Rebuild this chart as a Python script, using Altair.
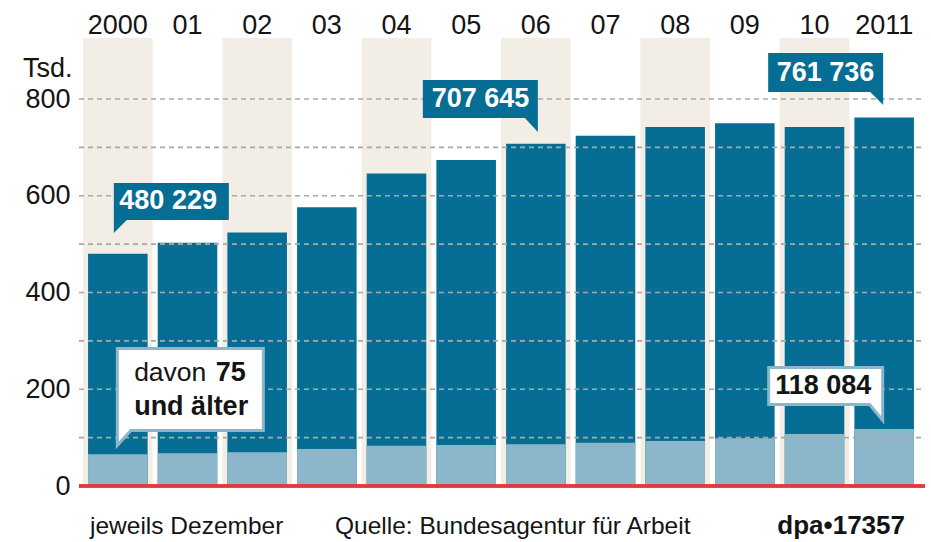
import altair as alt
import pandas as pd

# ---- data ----
years = ["2000", "01", "02", "03", "04", "05", "06", "07", "08", "09", "10", "2011"]
total_tsd = [480.229, 503, 524, 576, 646, 674, 707.645, 724, 742, 750, 742, 761.736]
aged75_tsd = [65.5, 67.5, 69.6, 76.5, 83.3, 84.7, 86.2, 89.6, 93, 98.6, 107.5, 118.084]
axis_ticks = [0, 200, 400, 600, 800]
grid_ticks = [100, 200, 300, 400, 500, 600, 700, 800]

# ---- style ----
W, H = 836, 448
YMAX = 926.1
FONT = "Liberation Sans"
DARK = "#066e94"
LIGHT = "#8cb7cb"
BEIGE = "#f3eee5"
RED = "#e6373c"
GRID = "#a8a8a8"
TXT = "#141414"

df = pd.DataFrame({"year": years, "total": total_tsd, "aged": aged75_tsd, "idx": list(range(len(years)))})
grid_df = pd.DataFrame({"g": grid_ticks})

yscale = alt.Scale(domain=[0, YMAX], nice=False, zero=True)
xscale = alt.Scale(domain=years, paddingInner=0, paddingOuter=0)

x_axis = alt.Axis(orient="top", labelFontSize=27, labelFont=FONT, labelColor=TXT,
                  ticks=False, domain=False, labelPadding=5, labelAngle=0,
                  labelBaseline="alphabetic", grid=False, title=None)
y_axis = alt.Axis(values=axis_ticks, labelFontSize=27, labelFont=FONT, labelColor=TXT,
                  ticks=False, domain=False, grid=False, labelPadding=13, title=None)


def X():
    return alt.X("year:N", sort=years, scale=xscale, title=None, axis=x_axis)


def Yf(field):
    return alt.Y(field, type="quantitative", scale=yscale, title=None, axis=y_axis)


def Yd(val):
    return alt.Y(datum=val, type="quantitative", scale=yscale, title=None, axis=y_axis)


base = alt.Chart(df)

bands = base.transform_filter("datum.idx % 2 == 0").mark_rect(color=BEIGE).encode(
    x=X(), y=Yd(YMAX), y2=alt.Y2(datum=0),
)

bars_total = base.mark_bar(color=DARK, width=alt.RelativeBandSize(0.855)).encode(
    x=X(), y=Yf("total"), y2=alt.Y2(datum=0),
)

bars_aged = base.mark_bar(color=LIGHT, width=alt.RelativeBandSize(0.855)).encode(
    x=X(), y=Yf("aged"), y2=alt.Y2(datum=0),
)

grid = alt.Chart(grid_df).mark_rule(color=GRID, strokeWidth=1.6, strokeDash=[5, 4]).encode(
    y=Yf("g"), x=alt.value(-4), x2=alt.value(W + 6),
)

baseline = alt.Chart(grid_df).mark_rule(color=RED, strokeWidth=2.5).encode(
    y=Yd(0), x=alt.value(-4), x2=alt.value(W + 6),
)


def fmt(v):
    return f"{round(v * 1000):,}".replace(",", " ")


# callouts: anchored at (year, value); outline path in pixel offsets from anchor
callouts = [
    dict(i=0, field="total", fill=DARK, stroke=DARK, sw=0, color="white",
         path="M -4 -70.7 L 111 -70.7 L 111 -33.7 L 9 -33.7 L -4 -20.7 Z",
         texts=[(fmt(total_tsd[0]), 50.3, -44.5, "bold", "center")]),
    dict(i=6, field="total", fill=DARK, stroke=DARK, sw=0, color="white",
         path="M -113 -63.7 L 2 -63.7 L 2 -11.7 L -11 -25.7 L -113 -25.7 Z",
         texts=[(fmt(total_tsd[6]), -55.4, -36.7, "bold", "center")]),
    dict(i=11, field="total", fill=DARK, stroke=DARK, sw=0, color="white",
         path="M -116 -64.5 L -1 -64.5 L -1 -12.5 L -14 -25.5 L -116 -25.5 Z",
         texts=[(fmt(total_tsd[11]), -58.7, -37, "bold", "center")]),
    dict(i=0, field="aged", fill="white", stroke=LIGHT, sw=3, color=TXT,
         path="M -0.5 -105.8 L 145.5 -105.8 L 145.5 -23.8 L 13 -23.8 L -0.5 -9 Z",
         texts=[("davon", 16.3, -73.6, "normal", "left"),
                ("75", 98, -73.6, "bold", "left"),
                ("und älter", 16.3, -39.3, "bold", "left")]),
    dict(i=11, field="aged", fill="white", stroke=LIGHT, sw=3, color=TXT,
         path="M -115.5 -61.4 L -1.5 -61.4 L -1.5 -8.5 L -14.5 -24.4 L -115.5 -24.4 Z",
         texts=[(fmt(aged75_tsd[11]), -60.9, -34.6, "bold", "center")]),
]

callout_layers = []
for c in callouts:
    cdf = pd.DataFrame({"year": [years[c["i"]]], "v": [df[c["field"]][c["i"]]]})
    cb = alt.Chart(cdf)
    callout_layers.append(
        cb.mark_point(shape=c["path"], size=4, filled=True, opacity=1, fill=c["fill"],
                      stroke=c["stroke"], strokeWidth=c["sw"], strokeJoin="miter").encode(
            x=X(), y=Yf("v"))
    )
    for (t, dx, dy, fw, al) in c["texts"]:
        callout_layers.append(
            cb.mark_text(text=t, dx=dx, dy=dy, font=FONT, fontSize=27 if fw == "bold" else 26.5,
                         fontWeight=fw, color=c["color"], align=al, baseline="alphabetic").encode(
                x=X(), y=Yf("v"))
        )

# static labels
lab_df = pd.DataFrame({"k": [0]})
lab = alt.Chart(lab_df)
tsd = lab.mark_text(text="Tsd.", font=FONT, fontSize=27, color=TXT, align="left",
                    baseline="alphabetic").encode(x=alt.value(-60), y=alt.value(39))
foot1 = lab.mark_text(text="jeweils Dezember", font=FONT, fontSize=24.5, color=TXT, align="left",
                      baseline="alphabetic").encode(x=alt.value(7), y=alt.value(496))
foot2 = lab.mark_text(text="Quelle: Bundesagentur für Arbeit", font=FONT, fontSize=24.5, color=TXT,
                      align="left", baseline="alphabetic").encode(x=alt.value(252), y=alt.value(496))
foot3 = lab.mark_text(text="dpa•17357", font=FONT, fontSize=26, fontWeight="bold", color=TXT,
                      align="right", baseline="alphabetic").encode(x=alt.value(822), y=alt.value(496))

chart = alt.layer(
    bands, bars_total, bars_aged, grid, baseline, *callout_layers, tsd, foot1, foot2, foot3
).properties(
    width=W, height=H,
    autosize=alt.AutoSizeParams(type="none"),
    padding={"left": 83, "top": 38, "right": 12, "bottom": 56},
    background="white",
).configure_view(stroke=None)

chart.save("out.html", embed_options={"renderer": "svg", "actions": False})
